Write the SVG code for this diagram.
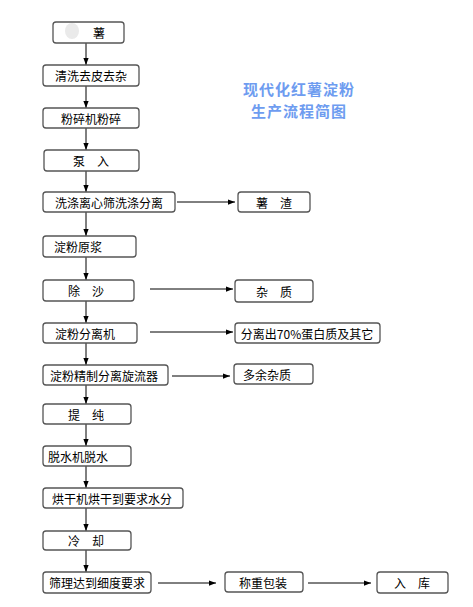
<svg xmlns="http://www.w3.org/2000/svg" width="473" height="607" viewBox="0 0 473 607">
<style>
.b{fill:#fff;stroke:#555;stroke-width:1.3}
.t{font-family:"Noto Sans CJK SC",sans-serif;font-size:12px;fill:#000;text-anchor:middle;dominant-baseline:central}
.c{stroke:#000;stroke-width:1;fill:none;marker-end:url(#ah)}
.title{font-family:"Noto Sans CJK SC",sans-serif;font-size:15px;font-weight:bold;fill:#6e9cf0;text-anchor:middle;letter-spacing:1px}
</style>
<defs>
<marker id="ah" viewBox="0 0 8 8" refX="8" refY="4" markerWidth="7" markerHeight="7" markerUnits="userSpaceOnUse" orient="auto">
<path d="M0,1 L8,4 L0,7 Z" fill="#000"/>
</marker>
</defs>
<rect width="473" height="607" fill="#fff"/>
<g id="connectors">
<line class="c" x1="86" y1="43" x2="86" y2="65"/>
<line class="c" x1="86" y1="86" x2="86" y2="108"/>
<line class="c" x1="86" y1="128" x2="86" y2="150"/>
<line class="c" x1="86" y1="171" x2="86" y2="192"/>
<line class="c" x1="86" y1="212" x2="86" y2="236"/>
<line class="c" x1="86" y1="257" x2="86" y2="280"/>
<line class="c" x1="86" y1="301" x2="86" y2="323"/>
<line class="c" x1="86" y1="343" x2="86" y2="365"/>
<line class="c" x1="86" y1="385" x2="86" y2="404"/>
<line class="c" x1="86" y1="424" x2="86" y2="446"/>
<line class="c" x1="86" y1="466" x2="86" y2="488"/>
<line class="c" x1="86" y1="508" x2="86" y2="531"/>
<line class="c" x1="86" y1="550" x2="86" y2="572"/>
<line class="c" x1="177" y1="202" x2="235" y2="202"/>
<line class="c" x1="150" y1="289" x2="233" y2="289"/>
<line class="c" x1="150" y1="332" x2="233" y2="332"/>
<line class="c" x1="172" y1="376" x2="230" y2="376"/>
<line class="c" x1="158" y1="583" x2="216" y2="583"/>
<line class="c" x1="308" y1="583" x2="371" y2="583"/>
</g>
<g id="title">
<text class="title" x="299" y="95">现代化红薯淀粉</text>
<text class="title" x="299" y="117">生产流程简图</text>
</g>
<g id="n1"><rect class="b" x="53" y="22" width="71" height="21" rx="3"/><text class="t" x="99" y="32.5">薯</text><ellipse cx="72" cy="31" rx="7" ry="8" fill="#eaeaea"/></g>
<g id="n2"><rect class="b" x="43" y="65" width="96" height="21" rx="3"/><text class="t" x="91" y="75.5">清洗去皮去杂</text></g>
<g id="n3"><rect class="b" x="43" y="108" width="96" height="20" rx="3"/><text class="t" x="91" y="118">粉碎机粉碎</text></g>
<g id="n4"><rect class="b" x="44" y="150" width="95" height="21" rx="3"/><text class="t" x="91" y="160.5">泵　入</text></g>
<g id="n5"><rect class="b" x="43" y="192" width="132" height="20" rx="3"/><text class="t" x="109" y="202">洗涤离心筛洗涤分离</text></g>
<g id="n6"><rect class="b" x="238" y="192" width="72" height="20" rx="3"/><text class="t" x="274" y="202">薯　渣</text></g>
<g id="n7"><rect class="b" x="43" y="236" width="93" height="21" rx="3"/><text class="t" x="78" y="246.5">淀粉原浆</text></g>
<g id="n8"><rect class="b" x="43" y="280" width="91" height="21" rx="3"/><text class="t" x="86" y="290.5">除　沙</text></g>
<g id="n9"><rect class="b" x="235" y="280" width="78" height="22" rx="3"/><text class="t" x="274" y="291">杂　质</text></g>
<g id="n10"><rect class="b" x="43" y="323" width="94" height="20" rx="3"/><text class="t" x="85" y="333">淀粉分离机</text></g>
<g id="n11"><rect class="b" x="235" y="323" width="145" height="20" rx="3"/><text class="t" x="307" y="333">分离出70%蛋白质及其它</text></g>
<g id="n12"><rect class="b" x="43" y="365" width="125" height="20" rx="3"/><text class="t" x="104" y="375">淀粉精制分离旋流器</text></g>
<g id="n13"><rect class="b" x="234" y="364" width="79" height="20" rx="3"/><text class="t" x="267" y="374">多余杂质</text></g>
<g id="n14"><rect class="b" x="43" y="404" width="88" height="20" rx="3"/><text class="t" x="86" y="414">提　纯</text></g>
<g id="n15"><rect class="b" x="43" y="446" width="88" height="20" rx="3"/><text class="t" x="78" y="456">脱水机脱水</text></g>
<g id="n16"><rect class="b" x="43" y="488" width="140" height="20" rx="3"/><text class="t" x="112" y="498">烘干机烘干到要求水分</text></g>
<g id="n17"><rect class="b" x="43" y="531" width="88" height="19" rx="3"/><text class="t" x="86" y="540.5">冷　却</text></g>
<g id="n18"><rect class="b" x="43" y="572" width="108" height="21" rx="3"/><text class="t" x="97" y="582.5">筛理达到细度要求</text></g>
<g id="n19"><rect class="b" x="225" y="572" width="78" height="20" rx="3"/><text class="t" x="263" y="582">称重包装</text></g>
<g id="n20"><rect class="b" x="377" y="572" width="71" height="21" rx="3"/><text class="t" x="412" y="582.5">入　库</text></g>
</svg>
